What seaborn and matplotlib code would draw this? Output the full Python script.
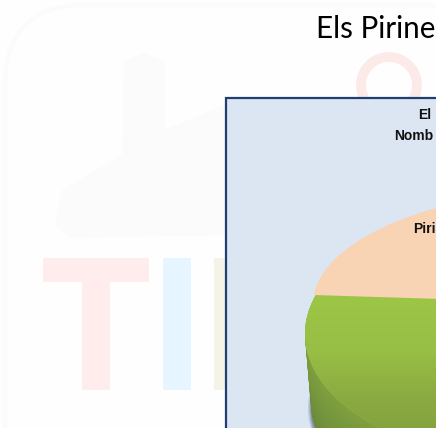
import numpy as np
import seaborn as sns
import matplotlib.pyplot as plt
from matplotlib.colors import LinearSegmentedColormap
from matplotlib.patches import Rectangle, FancyBboxPatch, Circle, Polygon

# data, only what the crop shows of each text
categories = ["Resta", "Piri"]
shares = [60, 40]
slide_title = "Els Pirine"
chart_title = ["El", "Nomb"]

W, H = 436, 428

sns.set_theme(style="white")
plt.rcParams['font.family'] = ['Lato', 'DejaVu Sans']
palette = sns.color_palette(["#9cc447", "#f8d3b4"])
no_edge = {'linewidth': 0, 'edgecolor': 'none'}

fig = plt.figure(figsize=(W / 100, H / 100), dpi=100, facecolor="#fefefe")

# page axes in pixels, y going down
page = fig.add_axes([0, 0, 1, 1], zorder=0)
page.set_xlim(0, W)
page.set_ylim(H, 0)
page.axis('off')

# faded watermark behind the slide
page.add_patch(FancyBboxPatch((5, 5), 500, 500, boxstyle="round,pad=0,rounding_size=80",
                              fc="#fefefe", ec="#fbfbfb", lw=3))
page.add_patch(Polygon([(124, 62), (143, 53), (165, 62), (165, 130), (225, 105), (225, 235),
                        (70, 238), (55, 225), (62, 190), (122, 155)], fc="#fbfbfb", ec="none"))
page.add_patch(Rectangle((43, 258), 106, 24, fc="#ffecec", ec="none"))
page.add_patch(Rectangle((82, 258), 28, 132, fc="#ffecec", ec="none"))
page.add_patch(Rectangle((163, 258), 28, 132, fc="#e6f5ff", ec="none"))
page.add_patch(Rectangle((214, 258), 28, 132, fc="#f5f3e8", ec="none"))
page.add_patch(Circle((389, 85), 28, fc="none", ec="#fbeae7", lw=7))

# chart panel
page.add_patch(Rectangle((225.5, 97.5), 240, 360, fc="#dce6f2", ec="#1f3f73", lw=1.6))


def pie_axes(cx, cy, rx, ry, z):
    ax = fig.add_axes([0, 0, 1, 1], zorder=z)
    ax.patch.set_alpha(0)
    return ax, ((0 - cx) / rx, (W - cx) / rx), ((cy - H) / ry, cy / ry)


def finish(ax, xlim, ylim):
    ax.set_aspect('auto')
    ax.set_xlim(xlim)
    ax.set_ylim(ylim)
    ax.axis('off')


# green slice: shadow, side layers, then the lit top face
green_ax, gx, gy = pie_axes(505, 334, 200, 120, 2)
layers = np.linspace(1, 0, 40)
side_colors = sns.blend_palette(["#6b8a3a", "#7f9f3f"], 40)
for r, a in zip([0.985, 0.978, 0.972], [0.25, 0.4, 0.6]):
    w, _ = green_ax.pie(shares, startangle=120, colors=["#6d7f9a", "none"], radius=r,
                        center=(0, -0.62), wedgeprops=no_edge)
    w[0].set_alpha(a)
for t, c in zip(layers, side_colors):
    green_ax.pie(shares, startangle=120, colors=[c, "none"], radius=1 - 0.03 * t,
                 center=(0, -0.58 * t), wedgeprops=no_edge)
wedges, _ = green_ax.pie(shares, startangle=120, colors=[palette[0], "none"], wedgeprops=no_edge)
ramp = LinearSegmentedColormap.from_list("ramp", ["#9dc546", "#98bf45", "#8aa941", "#7f9f3c"])
img = green_ax.imshow(np.linspace(0, 1, 200).reshape(-1, 1), extent=(-1, 1, -1, 0.3), cmap=ramp,
                      aspect='auto', zorder=5)
img.set_clip_path(wedges[0])
finish(green_ax, gx, gy)

# peach slice sits on top, sharing the dividing edge
peach_ax, px, py = pie_axes(600, 304, 287, 117, 3)
peach_ax.pie(shares, startangle=175.6, colors=["none", palette[1]], wedgeprops=no_edge)
finish(peach_ax, px, py)

# texts
txt = fig.add_axes([0, 0, 1, 1], zorder=4)
txt.set_xlim(0, W)
txt.set_ylim(H, 0)
txt.axis('off')
txt.text(316, 29, slide_title, fontsize=21.3, color="black", va='center', ha='left')
label_style = dict(fontsize=10, fontweight='bold', family='Liberation Sans', color="#111111", va='center')
txt.text(418, 115, chart_title[0], **label_style)
txt.text(394, 136, chart_title[1], **label_style)
txt.text(413, 229, categories[1], **label_style)

fig.savefig("out.png", dpi=100)
